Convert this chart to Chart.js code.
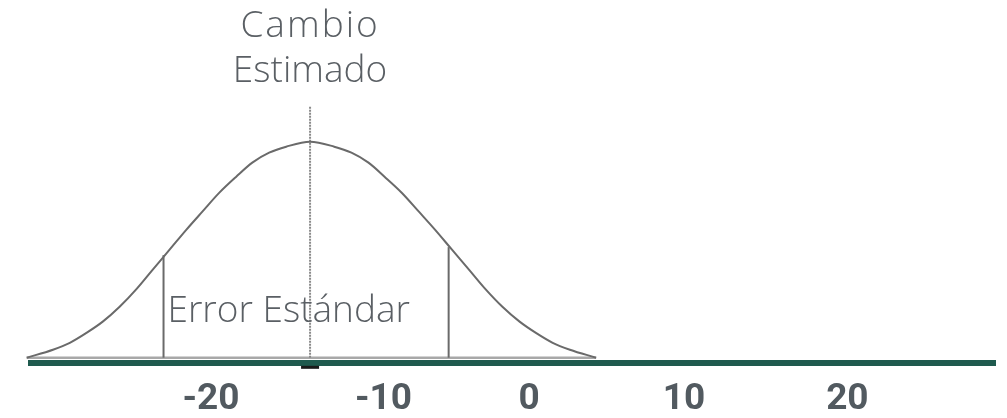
<!DOCTYPE html>
<html>
<head>
<meta charset="utf-8">
<script src="https://cdn.jsdelivr.net/npm/chart.js@4/dist/chart.umd.min.js"></script>
<style>
html,body{margin:0;padding:0;background:#fff;}
#wrap{width:1007px;height:418px;position:relative;}
</style>
</head>
<body>
<div id="wrap"><canvas id="c" width="1007" height="418"></canvas></div>
<script>
// ---- data ----
const tickLabels = ['-20', '-10', '0', '10', '20'];
const tickAt = [-20, -9.16, 0, 9.73, 20];           // where each label sits on the value axis
const curveX = [-31.58, -29.93, -28.87, -27.80, -26.80, -25.74, -24.67, -23.67, -22.60, -21.54,
                -20.54, -19.47, -18.41, -17.40, -16.34, -15.27, -13.77,
                -12.25, -11.17, -10.10, -9.09, -8.01, -6.93, -5.92, -4.85, -3.77,
                -2.76, -1.68, -0.60, 0.40, 1.48, 2.56, 4.21];
const curveY = [0, 0.037, 0.069, 0.116, 0.167, 0.236, 0.319, 0.407, 0.500, 0.593,
                0.676, 0.764, 0.838, 0.903, 0.949, 0.977, 1.0,
                0.977, 0.949, 0.903, 0.838, 0.764, 0.676, 0.593, 0.500, 0.407,
                0.319, 0.236, 0.167, 0.116, 0.069, 0.037, 0];
const estimate = -13.77;          // "Cambio Estimado"
const estimateTop = 1.165;
const seX = [-22.98, -5.06];      // one standard error either side
const seTop = [0.475, 0.512];
const xRange = [-31.31, 29.28];
const yRange = [-0.0245, 1.2];
const titleLines = ['Cambio', 'Estimado'];
const seLabel = 'Error Estándar';

const curvePts = curveX.map((x, i) => ({x, y: curveY[i]}));

const textPlugin = {
  id: 'texts',
  afterDatasetsDraw(chart) {
    const {ctx, scales: {x, y}} = chart;
    ctx.save();
    ctx.fillStyle = '#5a5f64';
    ctx.font = '300 37px "Open Sans"';
    ctx.textAlign = 'center';
    ctx.textBaseline = 'alphabetic';
    const cx = x.getPixelForValue(estimate);
    const top = y.getPixelForValue(estimateTop);
    if ('letterSpacing' in ctx) ctx.letterSpacing = '2px';
    ctx.fillText(titleLines[0], cx, top - 69);
    if ('letterSpacing' in ctx) ctx.letterSpacing = '0px';
    ctx.fillText(titleLines[1], cx, top - 24);
    ctx.textAlign = 'left';
    ctx.fillText(seLabel, x.getPixelForValue(seX[0]) + 4, y.getPixelForValue(0) - 36);
    ctx.restore();
  }
};

new Chart(document.getElementById('c'), {
  type: 'line',
  data: {
    datasets: [
      { data: curvePts, borderColor: '#6a6a6a', borderWidth: 2, pointRadius: 0,
        cubicInterpolationMode: 'monotone', clip: false, fill: false },
      { data: [{x: seX[0], y: 0}, {x: seX[0], y: seTop[0]}], borderColor: '#6a6a6a', borderWidth: 2, pointRadius: 0, clip: false },
      { data: [{x: seX[1], y: 0}, {x: seX[1], y: seTop[1]}], borderColor: '#6a6a6a', borderWidth: 2, pointRadius: 0, clip: false },
      { data: [{x: estimate, y: 0}, {x: estimate, y: estimateTop}], borderColor: '#8a8a8a', borderWidth: 2,
        borderDash: [2, 1], pointRadius: 0, clip: false },
      { data: [{x: curveX[0], y: 0}, {x: curveX[curveX.length - 1], y: 0}], borderColor: '#a8a8a8', borderWidth: 2.5, pointRadius: 0, clip: false },
      { type: 'scatter', data: [{x: estimate, y: -0.0445}], pointStyle: 'line', pointRadius: 9,
        borderColor: '#1a1a1a', borderWidth: 3, clip: false }
    ]
  },
  options: {
    responsive: false,
    animation: false,
    devicePixelRatio: 1,
    layout: { padding: { left: 31, right: 9, top: 98.5, bottom: 0 } },
    plugins: { legend: { display: false }, tooltip: { enabled: false }, title: { display: false } },
    scales: {
      x: {
        type: 'linear',
        min: xRange[0], max: xRange[1],
        grid: { display: false, drawTicks: false },
        border: { display: true, color: '#1f5a4e', width: 6 },
        afterBuildTicks(scale) { scale.ticks = tickAt.map(v => ({ value: v })); },
        afterFit(scale) { scale.height = 55; },
        ticks: {
          autoSkip: false, maxRotation: 0, padding: 15,
          color: '#525a60',
          font: { family: 'Roboto', weight: 'bold', size: 37 },
          callback: (v, i) => tickLabels[i]
        }
      },
      y: { display: false, min: yRange[0], max: yRange[1] }
    }
  },
  plugins: [textPlugin]
});
</script>
</body>
</html>
